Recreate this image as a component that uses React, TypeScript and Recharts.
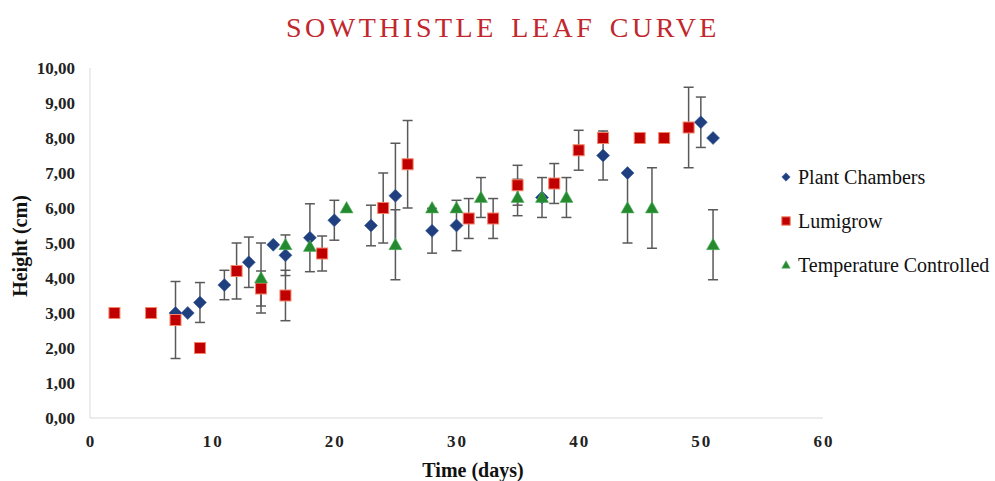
import React from 'react';
import { ErrorBar, Legend, Scatter, ScatterChart, XAxis, YAxis } from 'recharts';

// Plant Chambers
const plantDays = [7, 8, 9, 11, 13, 15, 16, 18, 20, 23, 25, 28, 30, 37, 42, 44, 50, 51];
const plantHeight = [3.0, 3.0, 3.3, 3.8, 4.45, 4.95, 4.65, 5.15, 5.65, 5.5, 6.35, 5.35, 5.5, 6.3, 7.5, 7.0, 8.45, 8.0];
const plantErr = [0, 0, 0.57, 0.42, 0.72, 0, 0.58, 0.97, 0.57, 0.58, 1.5, 0.64, 0.72, 0, 0.7, 0, 0.72, 0];

// Lumigrow
const lumiDays = [2, 5, 7, 9, 12, 14, 16, 19, 24, 26, 31, 33, 35, 38, 40, 42, 45, 47, 49];
const lumiHeight = [3.0, 3.0, 2.8, 2.0, 4.2, 3.7, 3.5, 4.7, 6.0, 7.25, 5.7, 5.7, 6.65, 6.7, 7.65, 8.0, 8.0, 8.0, 8.3];
const lumiErr = [0, 0, 1.1, 0, 0.8, 0.5, 0.72, 0.5, 1.0, 1.25, 0.57, 0.57, 0.57, 0.57, 0.57, 0, 0, 0, 1.15];

// Temperature Controlled
const tempDays = [14, 16, 18, 21, 25, 28, 30, 32, 35, 37, 39, 44, 46, 51];
const tempHeight = [4.0, 4.95, 4.9, 6.0, 4.95, 6.0, 6.0, 6.3, 6.3, 6.3, 6.3, 6.0, 6.0, 4.95];
const tempErr = [1.0, 0, 0, 0, 1.0, 0, 0, 0.57, 0.52, 0.57, 0.57, 1.0, 1.15, 1.0];

const xTicks = [0, 10, 20, 30, 40, 50, 60];
const yTicks = [0, 1, 2, 3, 4, 5, 6, 7, 8, 9, 10];

const seriesNames = ['Plant Chambers', 'Lumigrow', 'Temperature Controlled'];

const toPoints = (days: number[], heights: number[], errs: number[]) =>
  days.map((d, i) => ({ day: d, height: heights[i], err: errs[i] || null }));

const plantData = toPoints(plantDays, plantHeight, plantErr);
const lumiData = toPoints(lumiDays, lumiHeight, lumiErr);
const tempData = toPoints(tempDays, tempHeight, tempErr);

const SERIF = "'Liberation Serif', 'Times New Roman', serif";
const BLUE = '#1f3f7f';
const RED = '#c00000';
const GREEN = '#24892f';

const Diamond = ({ cx, cy, r = 6.5 }: any) => (
  <path d={`M${cx},${cy - r} L${cx + r},${cy} L${cx},${cy + r} L${cx - r},${cy} Z`} fill={BLUE} stroke="#3d5c99" strokeWidth={0.6} />
);

const Square = ({ cx, cy, r = 5.5 }: any) => (
  <rect x={cx - r} y={cy - r} width={r * 2} height={r * 2} fill={RED} stroke="#f3856a" strokeWidth={1} />
);

const Triangle = ({ cx, cy, r = 6.5 }: any) => (
  <path d={`M${cx},${cy - r} L${cx + r},${cy + r * 0.75} L${cx - r},${cy + r * 0.75} Z`} fill={GREEN} stroke="#4fae5a" strokeWidth={0.6} />
);

const markers = [Diamond, Square, Triangle];

const XTick = ({ x, y, payload }: any) => (
  <text x={x + 1} y={y} textAnchor="middle" fontFamily={SERIF} fontWeight="bold" fontSize={17} letterSpacing={2} fill="#222">
    {payload.value}
  </text>
);

const YTick = ({ x, y, payload }: any) => (
  <text x={x} y={y} dy="0.35em" textAnchor="end" fontFamily={SERIF} fontWeight="bold" fontSize={17} fill="#222">
    {payload.value.toFixed(2).replace('.', ',')}
  </text>
);

const YTitle = () => (
  <text transform="translate(27,246) rotate(-90)" textAnchor="middle" fontFamily={SERIF} fontWeight="bold" fontSize={20} fill="#111">
    Height (cm)
  </text>
);

const XTitle = () => (
  <text x={473} y={477} textAnchor="middle" fontFamily={SERIF} fontWeight="bold" fontSize={20} fill="#111">
    Time (days)
  </text>
);

const LegendContent = ({ payload }: any) => {
  const items = [...(payload || [])].sort(
    (a: any, b: any) => seriesNames.indexOf(a.value) - seriesNames.indexOf(b.value)
  );
  return (
    <div style={{ display: 'flex', flexDirection: 'column' }}>
      {items.map((entry: any) => {
        const Marker = markers[seriesNames.indexOf(entry.value)] || Diamond;
        return (
          <div key={entry.value} style={{ height: 44, display: 'flex', alignItems: 'center' }}>
            <svg width={12} height={12} style={{ display: 'block' }}>
              <Marker cx={6} cy={6} r={4.2} />
            </svg>
            <span style={{ marginLeft: 6, fontFamily: SERIF, fontSize: 20, color: '#111', whiteSpace: 'nowrap' }}>{entry.value}</span>
          </div>
        );
      })}
    </div>
  );
};

export default function App() {
  return (
    <div style={{ position: 'absolute', left: 0, top: 0, width: 995, height: 481, background: '#fff' }}>
      <div
        style={{
          position: 'absolute',
          top: 14,
          left: 0,
          width: 995,
          paddingLeft: 11,
          boxSizing: 'border-box',
          textAlign: 'center',
          fontFamily: SERIF,
          fontSize: 28,
          lineHeight: '28px',
          letterSpacing: 3.5,
          wordSpacing: 4,
          color: '#c1272d',
        }}
      >
        SOWTHISTLE LEAF CURVE
      </div>
      <ScatterChart width={995} height={481} margin={{ top: 68, right: 172, bottom: 0, left: 0 }}>
        <XAxis
          type="number"
          dataKey="day"
          domain={[0, 60]}
          ticks={xTicks}
          height={63}
          tickSize={0}
          tickMargin={29}
          tick={<XTick />}
          tickLine={false}
          axisLine={{ stroke: '#d9d9d9' }}
          label={<XTitle />}
        />
        <YAxis
          type="number"
          dataKey="height"
          domain={[0, 10]}
          ticks={yTicks}
          width={90}
          tickSize={0}
          tickMargin={15}
          tick={<YTick />}
          tickLine={false}
          axisLine={{ stroke: '#d9d9d9' }}
          label={<YTitle />}
        />
        <Legend
          layout="horizontal"
          verticalAlign="middle"
          align="center"
          itemSorter={null as any}
          content={<LegendContent />}
          wrapperStyle={{ position: 'absolute', left: 780, top: 155, width: 215, height: 132 }}
        />
        <Scatter name={seriesNames[0]} data={plantData} fill={BLUE} shape={(p: any) => <Diamond cx={p.cx} cy={p.cy} />} isAnimationActive={false}>
          <ErrorBar dataKey="err" direction="y" width={5} stroke="#595959" strokeWidth={1.5} isAnimationActive={false} />
        </Scatter>
        <Scatter name={seriesNames[1]} data={lumiData} fill={RED} shape={(p: any) => <Square cx={p.cx} cy={p.cy} />} isAnimationActive={false}>
          <ErrorBar dataKey="err" direction="y" width={5} stroke="#595959" strokeWidth={1.5} isAnimationActive={false} />
        </Scatter>
        <Scatter name={seriesNames[2]} data={tempData} fill={GREEN} shape={(p: any) => <Triangle cx={p.cx} cy={p.cy} />} isAnimationActive={false}>
          <ErrorBar dataKey="err" direction="y" width={5} stroke="#595959" strokeWidth={1.5} isAnimationActive={false} />
        </Scatter>
      </ScatterChart>
    </div>
  );
}
